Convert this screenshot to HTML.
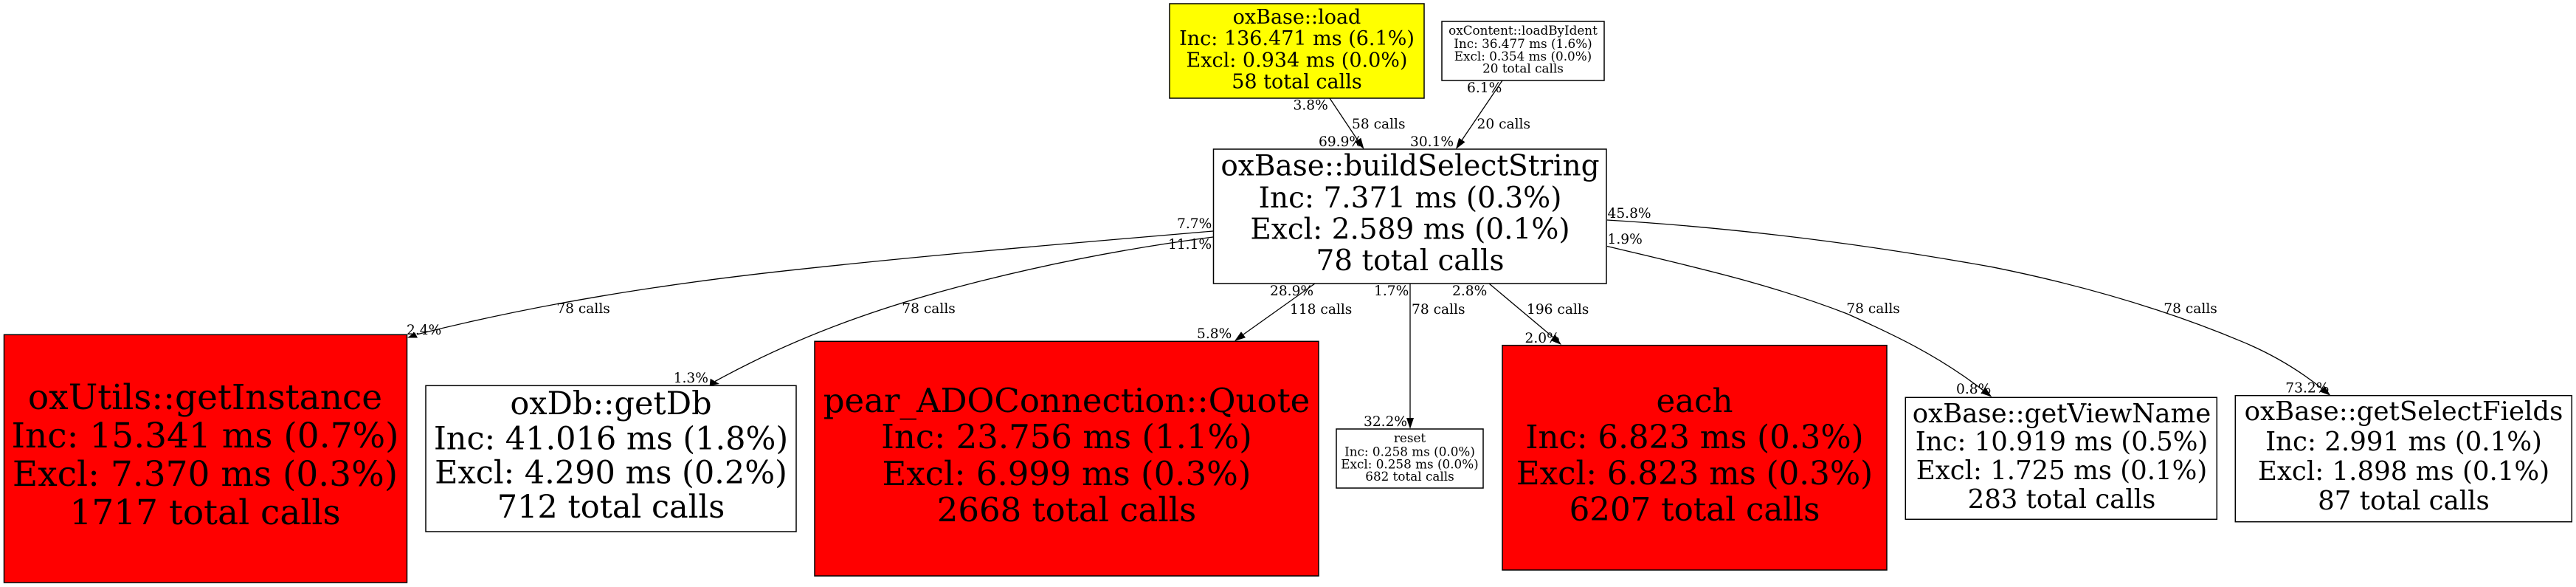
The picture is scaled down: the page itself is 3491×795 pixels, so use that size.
<!DOCTYPE html>
<html><head><meta charset="utf-8"><style>
html,body{margin:0;padding:0;background:#fff}
svg{display:block}
text{font-family:"DejaVu Serif",serif;fill:#000}
.e{fill:none;stroke:#000;stroke-width:1.3}
.n{stroke:#000;stroke-width:1.5}
.l text{font-size:18.6px}
.c{text-anchor:middle}
</style></head><body>
<svg width="3491" height="795" viewBox="0 0 3491 795" xmlns="http://www.w3.org/2000/svg">
<rect width="3491" height="795" fill="#fff"/>
<!-- edges -->
<path class="e" d="M1802,133L1840,190"/>
<path class="e" d="M2036,109L1981,190"/>
<path class="e" d="M1644,313C1451,329.4 1258,345.5 1065,366.7C898.6,385 732.1,411 565.7,452.7"/>
<path class="e" d="M1644,321C1540,334.5 1435.8,354 1331.7,380C1210.8,410.2 1089.9,450 969,516.5"/>
<path class="e" d="M1782,384L1685,453"/>
<path class="e" d="M1911,384L1911,566"/>
<path class="e" d="M2018,384L2105,457"/>
<path class="e" d="M2178,333.5C2286.4,359.5 2394.9,383 2503.3,425C2564.7,452.6 2626.1,481 2687.5,528.6"/>
<path class="e" d="M2178,298C2352,308.4 2526,330.4 2700,361.7C2813.3,384.4 2926.7,415.7 3040,463.3C3075.8,478.3 3111.5,498 3147.3,526.7"/>
<!-- nodes -->
<rect class="n" x="1585" y="5" width="345" height="128" fill="#ff0"/>
<rect class="n" x="1954" y="29" width="220" height="80" fill="#fff"/>
<rect class="n" x="1644.5" y="202" width="532.5" height="182" fill="#fff"/>
<rect class="n" x="5.5" y="453.3" width="546" height="335.7" fill="#f00"/>
<rect class="n" x="577" y="522.3" width="502" height="197.7" fill="#fff"/>
<rect class="n" x="1104" y="462.3" width="683" height="317.7" fill="#f00"/>
<rect class="n" x="1811" y="581" width="199" height="80" fill="#fff"/>
<rect class="n" x="2036" y="467.7" width="521" height="304.3" fill="#f00"/>
<rect class="n" x="2582.3" y="538.3" width="422" height="165" fill="#fff"/>
<rect class="n" x="3029.3" y="535.7" width="456" height="171" fill="#fff"/>
<!-- arrowheads -->
<polygon points="1848.5,202 1844.3,186.8 1836,192.4"/>
<polygon points="1973,202 1985.5,192.4 1977.2,186.8"/>
<polygon points="552,457.5 562,450 566,457.5"/>
<polygon points="961.7,522.3 975,520 962.7,512.7"/>
<polygon points="1673,462 1688,457.3 1682,449.3"/>
<polygon points="1911,581 1916,566 1906,566"/>
<polygon points="2116,467 2107.9,453.5 2101.3,461"/>
<polygon points="2699.3,537.6 2690.6,524.7 2684.4,532.5"/>
<polygon points="3158.3,535.7 3150.4,522.8 3144.2,530.6"/>
<!-- node labels -->
<g>
<text x="1757.5" y="32" class="c" style="font-size:27px">oxBase::load</text>
<text x="1757.5" y="61" class="c" style="font-size:27px">Inc: 136.471 ms (6.1%)</text>
<text x="1757.5" y="90.5" class="c" style="font-size:27px">Excl: 0.934 ms (0.0%)</text>
<text x="1757.5" y="119.5" class="c" style="font-size:27px">58 total calls</text>
</g>
<g>
<text x="2064" y="47" class="c" style="font-size:16.8px">oxContent::loadByIdent</text>
<text x="2064" y="65" class="c" style="font-size:16.8px">Inc: 36.477 ms (1.6%)</text>
<text x="2064" y="82" class="c" style="font-size:16.8px">Excl: 0.354 ms (0.0%)</text>
<text x="2064" y="98.5" class="c" style="font-size:16.8px">20 total calls</text>
</g>
<g>
<text x="1911" y="237.5" class="c" style="font-size:39px">oxBase::buildSelectString</text>
<text x="1911" y="281" class="c" style="font-size:39px">Inc: 7.371 ms (0.3%)</text>
<text x="1911" y="323.5" class="c" style="font-size:39px">Excl: 2.589 ms (0.1%)</text>
<text x="1911" y="366" class="c" style="font-size:39px">78 total calls</text>
</g>
<g>
<text x="278" y="554" class="c" style="font-size:47px">oxUtils::getInstance</text>
<text x="278" y="606" class="c" style="font-size:47px">Inc: 15.341 ms (0.7%)</text>
<text x="278" y="658" class="c" style="font-size:47px">Excl: 7.370 ms (0.3%)</text>
<text x="278" y="710" class="c" style="font-size:47px">1717 total calls</text>
</g>
<g>
<text x="828" y="561" class="c" style="font-size:43px">oxDb::getDb</text>
<text x="828" y="608.5" class="c" style="font-size:43px">Inc: 41.016 ms (1.8%)</text>
<text x="828" y="654.5" class="c" style="font-size:43px">Excl: 4.290 ms (0.2%)</text>
<text x="828" y="701" class="c" style="font-size:43px">712 total calls</text>
</g>
<g>
<text x="1445.5" y="558" class="c" style="font-size:45px">pear_ADOConnection::Quote</text>
<text x="1445.5" y="607" class="c" style="font-size:45px">Inc: 23.756 ms (1.1%)</text>
<text x="1445.5" y="657" class="c" style="font-size:45px">Excl: 6.999 ms (0.3%)</text>
<text x="1445.5" y="706" class="c" style="font-size:45px">2668 total calls</text>
</g>
<g>
<text x="1910.5" y="599" class="c" style="font-size:16.8px">reset</text>
<text x="1910.5" y="617.3" class="c" style="font-size:16.8px">Inc: 0.258 ms (0.0%)</text>
<text x="1910.5" y="634.3" class="c" style="font-size:16.8px">Excl: 0.258 ms (0.0%)</text>
<text x="1910.5" y="651" class="c" style="font-size:16.8px">682 total calls</text>
</g>
<g>
<text x="2296.5" y="558" class="c" style="font-size:43.5px">each</text>
<text x="2296.5" y="607" class="c" style="font-size:43.5px">Inc: 6.823 ms (0.3%)</text>
<text x="2296.5" y="656" class="c" style="font-size:43.5px">Excl: 6.823 ms (0.3%)</text>
<text x="2296.5" y="705" class="c" style="font-size:43.5px">6207 total calls</text>
</g>
<g>
<text x="2794" y="572" class="c" style="font-size:35.5px">oxBase::getViewName</text>
<text x="2794" y="610" class="c" style="font-size:35.5px">Inc: 10.919 ms (0.5%)</text>
<text x="2794" y="649" class="c" style="font-size:35.5px">Excl: 1.725 ms (0.1%)</text>
<text x="2794" y="688" class="c" style="font-size:35.5px">283 total calls</text>
</g>
<g>
<text x="3257.5" y="569" class="c" style="font-size:35.6px">oxBase::getSelectFields</text>
<text x="3257.5" y="610" class="c" style="font-size:35.6px">Inc: 2.991 ms (0.1%)</text>
<text x="3257.5" y="650" class="c" style="font-size:35.6px">Excl: 1.898 ms (0.1%)</text>
<text x="3257.5" y="690" class="c" style="font-size:35.6px">87 total calls</text>
</g>
<!-- edge labels -->
<g class="l">
<text x="1752.5" y="148.5">3.8%</text>
<text x="1832" y="174">58 calls</text>
<text x="1787" y="198">69.9%</text>
<text x="1911" y="198">30.1%</text>
<text x="2001.5" y="174">20 calls</text>
<text x="1988" y="125">6.1%</text>
<text x="1595" y="309">7.7%</text>
<text x="1583" y="337">11.1%</text>
<text x="2178.5" y="295">45.8%</text>
<text x="2178.5" y="330">1.9%</text>
<text x="1721" y="400">28.9%</text>
<text x="1862" y="400">1.7%</text>
<text x="1968" y="400">2.8%</text>
<text x="1748" y="425">118 calls</text>
<text x="1913" y="425">78 calls</text>
<text x="2069" y="425">196 calls</text>
<text x="1622" y="458">5.8%</text>
<text x="1848" y="577">32.2%</text>
<text x="2066.5" y="464">2.0%</text>
<text x="754.3" y="424">78 calls</text>
<text x="1222.3" y="424">78 calls</text>
<text x="551" y="453">2.4%</text>
<text x="912.7" y="518">1.3%</text>
<text x="2502.3" y="424">78 calls</text>
<text x="2932.3" y="424">78 calls</text>
<text x="2651" y="533">0.8%</text>
<text x="3097.3" y="531.7">73.2%</text>
</g>
</svg>
</body></html>
